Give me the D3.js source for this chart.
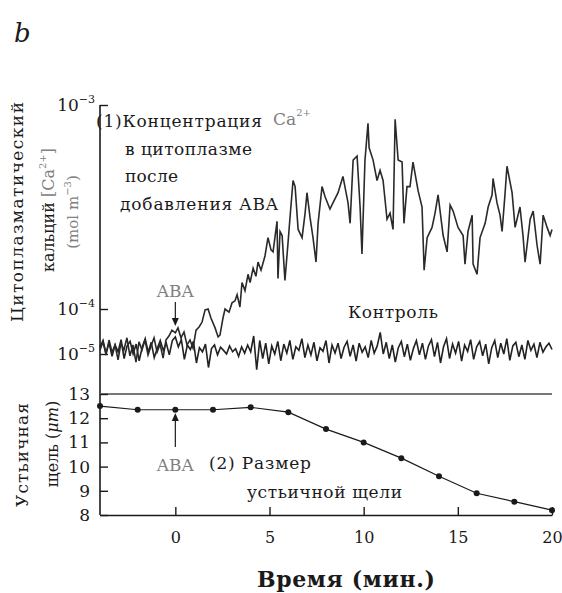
<!DOCTYPE html>
<html>
<head>
<meta charset="utf-8">
<script src="https://cdn.jsdelivr.net/npm/d3@7"></script>
<style>
  body { margin: 0; background: #fff; }
  text { font-family: "DejaVu Serif", serif; }
</style>
</head>
<body>
<svg width="562" height="593"></svg>
<script>
// Time axis (min)
const xTicks = [0, 5, 10, 15, 20];

// Cytosolic Ca2+ as log10 of concentration (mol m^-3)
const caTicks = [-5, -4, -3];

// Trace after ABA addition: [time (min), log10 Ca2+]
const abaTrace = [
  [-4.00,-4.91],[-3.84,-4.73],[-3.68,-5.02],[-3.52,-4.69],[-3.36,-4.96],[-3.20,-4.80],
  [-3.04,-5.13],[-2.89,-4.76],[-2.73,-4.91],[-2.57,-4.64],[-2.41,-5.04],[-2.25,-4.80],
  [-2.09,-5.18],[-1.93,-4.73],[-1.77,-4.91],[-1.61,-4.69],[-1.45,-5.02],[-1.29,-4.82],
  [-1.13,-4.64],[-0.97,-4.96],[-0.81,-4.78],[-0.65,-5.09],[-0.50,-4.69],[-0.34,-4.60],
  [-0.18,-4.47],[0.00,-4.53],[0.14,-4.42],[0.30,-4.64],[0.46,-4.51],[0.62,-4.80],
  [0.78,-4.69],[0.94,-4.87],[1.10,-4.47],[1.26,-4.40],[1.42,-4.29],[1.58,-4.02],
  [1.74,-4.00],[1.89,-4.20],[2.11,-4.42],[2.27,-4.62],[2.37,-4.58],[2.53,-4.20],
  [2.64,-4.00],[2.85,-4.07],[3.01,-3.97],[3.17,-3.96],[3.28,-3.93],[3.43,-3.99],
  [3.54,-3.87],[3.70,-3.91],[3.86,-3.83],[3.97,-3.87],[4.13,-3.80],[4.28,-3.84],
  [4.39,-3.77],[4.55,-3.81],[4.76,-3.74],[4.92,-3.65],[5.08,-3.71],[5.19,-3.72],
  [5.40,-3.57],[5.45,-3.85],[5.56,-3.62],[5.67,-3.64],[5.82,-3.86],[5.98,-3.68],
  [6.09,-3.55],[6.25,-3.37],[6.36,-3.40],[6.52,-3.61],[6.73,-3.65],[6.89,-3.53],
  [6.99,-3.43],[7.15,-3.55],[7.31,-3.65],[7.47,-3.77],[7.58,-3.58],[7.79,-3.40],
  [7.95,-3.45],[8.21,-3.51],[8.37,-3.48],[8.64,-3.43],[8.90,-3.35],[9.17,-3.48],
  [9.28,-3.58],[9.44,-3.27],[9.65,-3.25],[9.81,-3.50],[9.91,-3.73],[10.07,-3.27],
  [10.23,-3.09],[10.29,-3.21],[10.50,-3.27],[10.71,-3.37],[10.87,-3.32],[11.03,-3.37],
  [11.24,-3.56],[11.40,-3.53],[11.56,-3.61],[11.67,-3.07],[11.83,-3.27],[12.04,-3.28],
  [12.14,-3.58],[12.30,-3.40],[12.46,-3.40],[12.62,-3.28],[12.89,-3.42],[13.10,-3.50],
  [13.21,-3.81],[13.37,-3.65],[13.63,-3.60],[13.79,-3.53],[13.95,-3.44],[14.22,-3.64],
  [14.43,-3.72],[14.59,-3.49],[14.75,-3.52],[15.01,-3.60],[15.28,-3.64],[15.38,-3.78],
  [15.54,-3.62],[15.76,-3.54],[15.81,-3.78],[16.02,-3.83],[16.18,-3.65],[16.45,-3.58],
  [16.61,-3.50],[16.82,-3.44],[16.87,-3.36],[17.08,-3.48],[17.24,-3.54],[17.35,-3.62],
  [17.51,-3.43],[17.61,-3.30],[17.88,-3.43],[18.04,-3.60],[18.30,-3.50],[18.46,-3.64],
  [18.57,-3.77],[18.84,-3.56],[19.00,-3.52],[19.21,-3.69],[19.37,-3.78],[19.53,-3.54],
  [19.74,-3.60],[19.90,-3.64],[20.00,-3.61]
];

// Control trace, sampled every 0.16 min from -4 min: log10 Ca2+
const controlStart = -4;
const controlStep = 0.16;
const controlTrace = [
  -4.85,-4.70,-4.98,-4.75,-5.05,-4.80,-4.95,-4.68,-5.10,-4.82,
  -4.72,-5.00,-4.78,-5.15,-4.85,-4.66,-4.96,-4.74,-5.08,-4.88,
  -4.70,-4.92,-4.76,-5.02,-4.70,-4.62,-4.84,-4.68,-5.12,-4.80,
  -4.90,-4.72,-5.20,-4.86,-4.95,-4.78,-5.30,-4.88,-4.80,-5.02,
  -4.85,-4.92,-5.00,-4.82,-4.95,-4.88,-5.05,-4.84,-4.98,-4.80,
  -4.95,-4.60,-5.35,-4.70,-5.10,-4.76,-5.22,-4.82,-5.00,-4.72,
  -5.15,-4.78,-4.98,-4.70,-5.12,-4.84,-4.92,-4.66,-5.08,-4.80,
  -5.02,-4.74,-5.15,-4.86,-4.94,-4.70,-5.20,-4.80,-4.98,-4.76,
  -5.10,-4.85,-4.72,-5.05,-4.80,-5.16,-4.76,-4.96,-4.84,-5.08,
  -4.70,-4.98,-4.82,-4.52,-5.00,-4.74,-5.10,-4.80,-5.18,-4.86,
  -4.72,-5.06,-4.78,-5.14,-4.88,-4.70,-5.02,-4.76,-5.12,-4.82,
  -4.68,-5.06,-4.74,-5.20,-4.84,-4.66,-5.10,-4.78,-4.98,-4.72,
  -5.16,-4.80,-4.94,-4.68,-5.12,-4.84,-4.72,-5.04,-4.78,-5.22,
  -4.86,-4.70,-5.08,-4.76,-5.00,-4.66,-5.14,-4.82,-4.74,-5.06,
  -4.80,-5.12,-4.70,-4.92,-4.78,-5.08,-4.74,-4.96,-4.84,-4.76,-4.90
];

// Stomatal aperture (um)
const gapTicks = [8, 9, 10, 11, 12, 13];
const gapTime = [-4, -2, 0, 2, 4, 6, 8, 10, 12, 14, 16, 18, 20];
const gapWidth = [12.5, 12.35, 12.35, 12.35, 12.45, 12.25, 11.55, 11.0, 10.35, 9.6, 8.9, 8.55, 8.2];

const svg = d3.select("svg");
const ink = "#1a1a1a", grey = "#808080";

const x = d3.scaleLinear().domain([-4, 20]).range([100, 552]);
const yCa = d3.scaleLinear().domain([-5, -4, -3]).range([354, 309, 105]);
const yGap = d3.scaleLinear().domain([8, 13]).range([515, 394]);

// panel label
svg.append("text").attr("x", 14).attr("y", 42)
    .attr("font-size", 26).attr("font-style", "italic").attr("fill", ink).text("b");

// left spine across both panels
svg.append("line")
    .attr("x1", x(-4)).attr("x2", x(-4))
    .attr("y1", yCa(-3)).attr("y2", yGap(8))
    .attr("stroke", ink).attr("stroke-width", 1.6);

// top line of the aperture panel
svg.append("line")
    .attr("x1", x(-4)).attr("x2", x(20))
    .attr("y1", yGap(13)).attr("y2", yGap(13))
    .attr("stroke", "#777").attr("stroke-width", 2);

// Ca axis
const gCa = svg.append("g")
    .attr("transform", `translate(${x(-4)},0)`)
    .call(d3.axisLeft(yCa).tickValues(caTicks).tickSize(-8).tickPadding(5).tickFormat(""));
gCa.select(".domain").remove();
gCa.selectAll(".tick line").attr("stroke", ink).attr("stroke-width", 1.4);
gCa.selectAll(".tick text")
    .attr("font-size", 17).attr("font-family", "DejaVu Serif").attr("fill", ink)
    .each(function(d) {
        const t = d3.select(this);
        t.append("tspan").text("10");
        t.append("tspan").attr("dy", -8).attr("font-size", 11).text("\u2212" + (-d));
    });

// aperture axis
const gGap = svg.append("g")
    .attr("transform", `translate(${x(-4)},0)`)
    .call(d3.axisLeft(yGap).tickValues(gapTicks).tickFormat(d3.format("d")).tickSize(-8).tickPadding(10));
gGap.select(".domain").remove();
gGap.selectAll(".tick line").attr("stroke", ink).attr("stroke-width", 1.4);
gGap.selectAll(".tick text")
    .attr("font-size", 17).attr("font-family", "DejaVu Serif").attr("fill", ink);

// time axis
const gX = svg.append("g")
    .attr("transform", `translate(0,${yGap(8)})`)
    .call(d3.axisBottom(x).tickValues(xTicks).tickSize(-8).tickSizeOuter(0).tickPadding(17));
gX.select(".domain").attr("stroke", ink).attr("stroke-width", 1.6);
gX.selectAll(".tick line").attr("stroke", ink).attr("stroke-width", 1.4);
gX.selectAll(".tick text")
    .attr("font-size", 16).attr("font-family", "DejaVu Serif").attr("fill", ink);

svg.append("text").attr("x", 346).attr("y", 587).attr("text-anchor", "middle")
    .attr("font-size", 22).attr("font-weight", "bold").attr("fill", ink)
    .attr("textLength", 178)
    .text("Время (мин.)");

// Ca traces
const caLine = d3.line().x(d => x(d[0])).y(d => yCa(d[1]));
svg.append("path")
    .datum(controlTrace.map((v, i) => [controlStart + i * controlStep, v]))
    .attr("fill", "none").attr("stroke", "#222").attr("stroke-width", 1.6)
    .attr("d", caLine);
svg.append("path")
    .datum(abaTrace)
    .attr("fill", "none").attr("stroke", "#2a2a2a").attr("stroke-width", 1.6)
    .attr("d", caLine);

// aperture line with dots
const gapData = gapTime.map((t, i) => [t, gapWidth[i]]);
svg.append("path")
    .datum(gapData)
    .attr("fill", "none").attr("stroke", ink).attr("stroke-width", 1.2)
    .attr("d", d3.line().x(d => x(d[0])).y(d => yGap(d[1])));
svg.selectAll("circle.gap")
    .data(gapData)
    .join("circle")
    .attr("class", "gap")
    .attr("cx", d => x(d[0])).attr("cy", d => yGap(d[1]))
    .attr("r", 3).attr("fill", ink);

// axis titles (rotated)
function vtext(cx, cy, len, size, parts) {
    const t = svg.append("text")
        .attr("transform", `translate(${cx},${cy}) rotate(-90)`)
        .attr("text-anchor", "middle").attr("dominant-baseline", "central")
        .attr("font-size", size);
    if (len) t.attr("textLength", len);
    parts.forEach(p => {
        const s = t.append("tspan").attr("fill", p.c || ink).text(p.s);
        if (p.dy) s.attr("dy", p.dy);
        if (p.fs) s.attr("font-size", p.fs);
        if (p.it) s.attr("font-style", "italic");
    });
    return t;
}
vtext(17, 212, 220, 17, [{s: "Цитоплазматический"}]);
vtext(48, 210, null, 16, [
    {s: "кальций "}, {s: "[Ca", c: grey}, {s: "2+", c: grey, dy: -6, fs: 10}, {s: "]", c: grey, dy: 6}
]);
vtext(73, 212, null, 15, [
    {s: "(mol m", c: grey}, {s: "\u22123", c: grey, dy: -6, fs: 10}, {s: ")", c: grey, dy: 6}
]);
vtext(22, 455, 104, 17, [{s: "Устьичная"}]);
vtext(52, 444, null, 16, [{s: "щель ("}, {s: "\u03bcm", it: true}, {s: ")"}]);

// annotations, panel 1
function label(xp, yp, s, opts = {}) {
    const t = svg.append("text").attr("x", xp).attr("y", yp)
        .attr("font-size", opts.size || 17)
        .attr("fill", opts.c || ink)
        .attr("text-anchor", opts.anchor || "start")
        .text(s);
    if (opts.len) t.attr("textLength", opts.len);
    return t;
}
label(96, 127, "(1)Концентрация", {len: 166});
const ca = label(273, 125, "Ca", {c: grey, size: 17});
ca.append("tspan").attr("dy", -9).attr("font-size", 10).text("2+");
label(125, 155, "в цитоплазме", {len: 127});
label(125, 182, "после", {len: 53});
label(120, 210, "добавления ABA", {len: 158});
label(x(0), 297, "ABA", {c: grey, size: 17, anchor: "middle"});
label(348, 318, "Контроль", {len: 90});

// arrows at ABA addition
function arrow(xp, y0, y1) {
    const dir = Math.sign(y1 - y0);
    svg.append("line").attr("x1", xp).attr("x2", xp).attr("y1", y0).attr("y2", y1 - dir * 6)
        .attr("stroke", ink).attr("stroke-width", 1.2);
    svg.append("path")
        .attr("d", `M${xp - 3.5},${y1 - dir * 8}L${xp},${y1}L${xp + 3.5},${y1 - dir * 8}Z`)
        .attr("fill", ink);
}
arrow(x(0), 302, 326);
arrow(x(0), 447, 413);

// annotations, panel 2
label(x(0), 471, "ABA", {c: grey, size: 17, anchor: "middle"});
label(209, 469, "(2) Размер", {len: 102});
label(247, 498, "устьичной щели", {len: 155});
</script>
</body>
</html>
